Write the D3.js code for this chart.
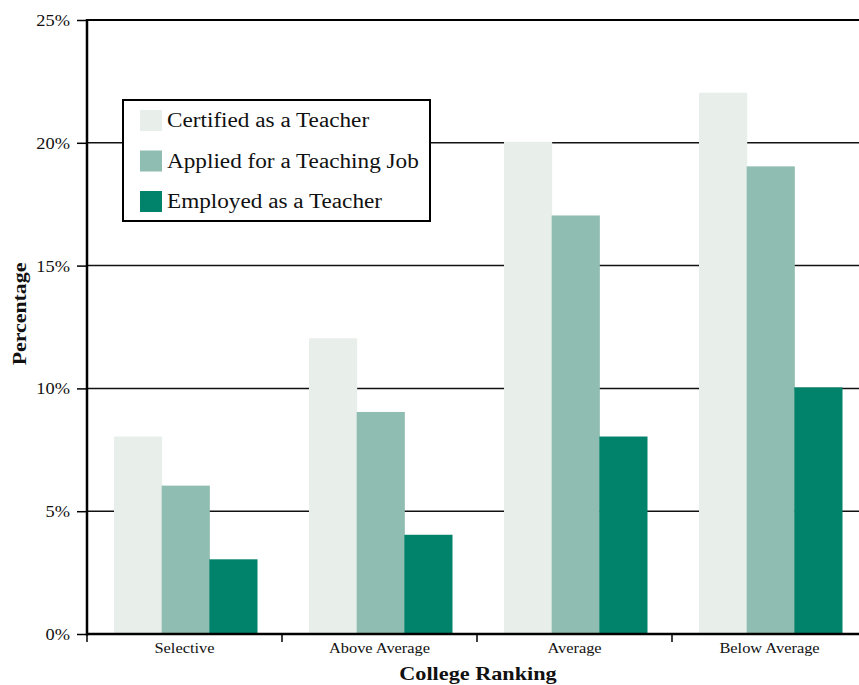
<!DOCTYPE html>
<html><head><meta charset="utf-8">
<script src="https://cdn.jsdelivr.net/npm/d3@7"></script>
<style>body{margin:0;background:#fff}svg{display:block}</style>
</head><body>
<svg id="c" width="859" height="685"></svg>
<script>
const categories = ["Selective", "Above Average", "Average", "Below Average"];
const seriesNames = ["Certified as a Teacher", "Applied for a Teaching Job", "Employed as a Teacher"];
const certified = [8, 12, 20, 22];
const applied = [6, 9, 17, 19];
const employed = [3, 4, 8, 10];
const yTicks = [0, 5, 10, 15, 20, 25];
const colors = ["#e8efeb", "#8fbdb1", "#00826b"];

const series = [certified, applied, employed];
const font = "'Liberation Serif', 'Times New Roman', serif";
const svg = d3.select("#c");
const L = 87, T = 20, B = 634, R = 867;
const x = d3.scaleBand().domain(categories).range([L, R]).padding(0);
const x1 = d3.scaleBand().domain(d3.range(3)).range([27, x.bandwidth() - 25]).padding(0);
const y = d3.scaleLinear().domain([0, 25]).range([B, T]);

function stretch(sel, k) {
  sel.each(function () {
    const len = this.getComputedTextLength();
    d3.select(this).attr("textLength", len * k).attr("lengthAdjust", "spacingAndGlyphs");
  });
}

// gridlines
svg.append("g").selectAll("line").data(yTicks.filter(d => d > 0 && d < 25)).join("line")
  .attr("x1", L).attr("x2", 859).attr("y1", d => y(d)).attr("y2", d => y(d))
  .attr("stroke", "#111").attr("stroke-width", 1.5);
svg.append("line").attr("x1", L).attr("x2", 859).attr("y1", y(25)).attr("y2", y(25))
  .attr("stroke", "#000").attr("stroke-width", 2);

// bars
const g = svg.append("g").selectAll("g").data(categories).join("g")
  .attr("transform", c => `translate(${x(c)},0)`);
g.selectAll("rect").data((c, i) => series.map((s, k) => ({k, v: s[i]}))).join("rect")
  .attr("x", d => x1(d.k)).attr("width", x1.bandwidth() + 0.5)
  .attr("y", d => y(d.v) - 1).attr("height", d => B - y(d.v) + 1)
  .attr("fill", d => colors[d.k]);

// y axis
const ya = svg.append("g").attr("transform", `translate(${L},0)`)
  .call(d3.axisLeft(y).tickValues(yTicks).tickFormat(d => d + "%").tickSize(10).tickPadding(7));
ya.select(".domain").remove();
ya.selectAll(".tick line").attr("stroke", "#000").attr("stroke-width", 1.5);
ya.selectAll("text").attr("font-family", font).attr("font-size", 17).attr("fill", "#111");
stretch(ya.selectAll("text"), 1.08);
svg.append("line").attr("x1", L).attr("x2", L).attr("y1", T - 1).attr("y2", B + 1.5)
  .attr("stroke", "#000").attr("stroke-width", 2.5);

// x axis
const xa = svg.append("g").attr("transform", `translate(0,${B})`)
  .call(d3.axisBottom(x).tickSize(0).tickPadding(9));
xa.select(".domain").remove();
xa.selectAll("text").attr("font-family", font).attr("font-size", 14).attr("fill", "#111");
stretch(xa.selectAll("text"), 1.17);
svg.append("g").selectAll("line").data(categories).join("line")
  .attr("x1", c => x(c)).attr("x2", c => x(c)).attr("y1", B).attr("y2", B + 8)
  .attr("stroke", "#000").attr("stroke-width", 1.5);
svg.append("line").attr("x1", L - 1).attr("x2", 859).attr("y1", B).attr("y2", B)
  .attr("stroke", "#000").attr("stroke-width", 2.5);

// axis titles
const xt = svg.append("text").attr("x", 478).attr("y", 680).attr("text-anchor", "middle")
  .attr("font-family", font).attr("font-weight", "bold").attr("font-size", 19).attr("fill", "#111")
  .text("College Ranking");
stretch(xt, 1.17);
const yt = svg.append("text").attr("transform", "translate(26,314) rotate(-90)").attr("text-anchor", "middle")
  .attr("font-family", font).attr("font-weight", "bold").attr("font-size", 19).attr("fill", "#111")
  .text("Percentage");
stretch(yt, 1.15);

// legend
const lg = svg.append("g");
lg.append("rect").attr("x", 123).attr("y", 100).attr("width", 307).attr("height", 121)
  .attr("fill", "#fff").attr("stroke", "#000").attr("stroke-width", 2);
seriesNames.forEach((n, i) => {
  const yy = 110 + i * 40.5;
  lg.append("rect").attr("x", 140).attr("y", yy).attr("width", 22).attr("height", 21).attr("fill", colors[i]);
  const t = lg.append("text").attr("x", 167).attr("y", yy + 17).attr("font-family", font).attr("font-size", 20)
    .attr("fill", "#111").text(n);
  stretch(t, 1.16);
});
</script>
</body></html>
